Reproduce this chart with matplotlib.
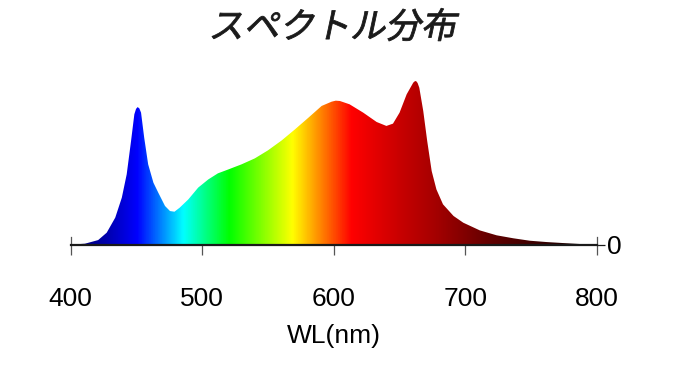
import numpy as np
import matplotlib
matplotlib.use("Agg")
import matplotlib.pyplot as plt
from matplotlib.colors import LinearSegmentedColormap
from matplotlib.patheffects import AbstractPathEffect
from matplotlib.transforms import Affine2D

# spectrum (relative intensity, peak = 100)
wavelength = [400, 411, 421, 427.5, 434, 439, 442.7, 446, 448.5, 449.8, 451, 452.3,
              453.6, 456, 459, 463, 466.7, 471.8, 475.6, 479, 483, 489.5, 497,
              504.7, 512, 520, 530, 540, 550, 560.5, 570.5, 580.7, 590.8, 598.4,
              601.5, 604.7, 612, 622.4, 632.6, 640, 645, 650, 655.4, 660.4, 661.5,
              662.5, 663.7, 665, 668, 671, 674.4, 678, 683, 691, 698.4, 711, 723.8,
              736.4, 749, 761.7, 774, 787, 800]
intensity = [0.2, 0.8, 3.0, 7.5, 16.7, 28.9, 43.1, 63.4, 79.7, 83.0, 84.1, 83.3,
             80.7, 65.4, 49.2, 38.0, 31.9, 23.8, 20.7, 20.3, 22.8, 27.8, 35.0,
             40.0, 43.7, 46.1, 49.2, 52.8, 57.7, 63.8, 70.5, 77.6, 84.8, 87.4,
             88.0, 87.8, 85.8, 80.7, 75.0, 72.6, 74.0, 80.7, 91.9, 99.0, 99.8,
             100.0, 98.8, 95.9, 81.7, 63.4, 45.1, 33.9, 24.8, 17.7, 13.6, 8.9, 5.9,
             4.1, 2.6, 1.8, 1.2, 0.6, 0.2]

xticks = [400, 500, 600, 700, 800]
title = "スペクトル分布"
xlabel = "WL(nm)"

# colour of each wavelength
color_nm = [400, 425, 450, 485, 520, 568, 613, 650, 680, 720, 800]
color_hex = ['#000070', '#0000a8', '#0000ff', '#00ffff', '#00ff00', '#ffff00',
             '#ff0000', '#c80000', '#a00000', '#600000', '#0a0000']


class Oblique(AbstractPathEffect):
    """slant glyphs like a synthetic italic, with an optional outline"""

    def __init__(self, deg, stroke=0.0):
        super().__init__()
        self.deg = deg
        self.stroke = stroke

    def draw_path(self, renderer, gc, tpath, affine, rgbFace=None):
        tr = Affine2D().skew_deg(self.deg, 0) + affine
        if self.stroke:
            gc0 = renderer.new_gc()
            gc0.copy_properties(gc)
            gc0.set_linewidth(self.stroke)
            gc0.set_foreground(rgbFace)
            renderer.draw_path(gc0, tpath, tr, rgbFace)
            gc0.restore()
        else:
            renderer.draw_path(gc, tpath, tr, rgbFace)


plt.rcParams['font.family'] = ['Liberation Sans', 'DejaVu Sans']

fig = plt.figure(figsize=(6.93, 3.80), dpi=100)
ax = fig.add_axes([70.5 / 693, 135 / 380, 526.5 / 693, 164 / 380])

lo, hi = color_nm[0], color_nm[-1]
cmap = LinearSegmentedColormap.from_list(
    'spec', [((n - lo) / (hi - lo), c) for n, c in zip(color_nm, color_hex)], N=512)

poly = ax.fill_between(wavelength, 0, intensity, facecolor='none', edgecolor='none')
grad = np.linspace(0, 1, 800).reshape(1, -1)
im = ax.imshow(grad, cmap=cmap, extent=[lo, hi, 0, max(intensity)],
               aspect='auto', origin='lower', interpolation='bilinear')
im.set_clip_path(poly.get_paths()[0], transform=ax.transData)

ax.set_xlim(xticks[0], xticks[-1])
ax.set_ylim(0, max(intensity))

for s in ['top', 'left', 'right']:
    ax.spines[s].set_visible(False)
ax.spines['bottom'].set_color('#1a1a1a')
ax.spines['bottom'].set_linewidth(1.6)
ax.spines['bottom'].set_zorder(5)

ax.set_xticks(xticks)
ax.tick_params(axis='x', direction='out', length=7.5, width=0.9, color='#555555',
               labelsize=19, pad=23)
# end marks rising above the axis
for xe in (xticks[0], xticks[-1]):
    ax.axvline(xe, ymin=0, ymax=8 / 164, color='#555555', lw=0.9, clip_on=False)

ax.yaxis.tick_right()
ax.set_yticks([0])
ax.set_yticklabels(['0'])
ax.tick_params(axis='y', direction='out', length=6, width=0.9, color='#1a1a1a',
               labelsize=19, pad=1.5)

ax.set_xlabel(xlabel, fontsize=19, labelpad=9)

fig.text(0.479, 1 - 28 / 380, title, ha='center', va='center', fontsize=25.5,
         color='#1a1a1a', family=['Noto Sans CJK JP', 'DejaVu Sans'],
         path_effects=[Oblique(12, stroke=0.6)])

fig.savefig('out.png', dpi=100)
